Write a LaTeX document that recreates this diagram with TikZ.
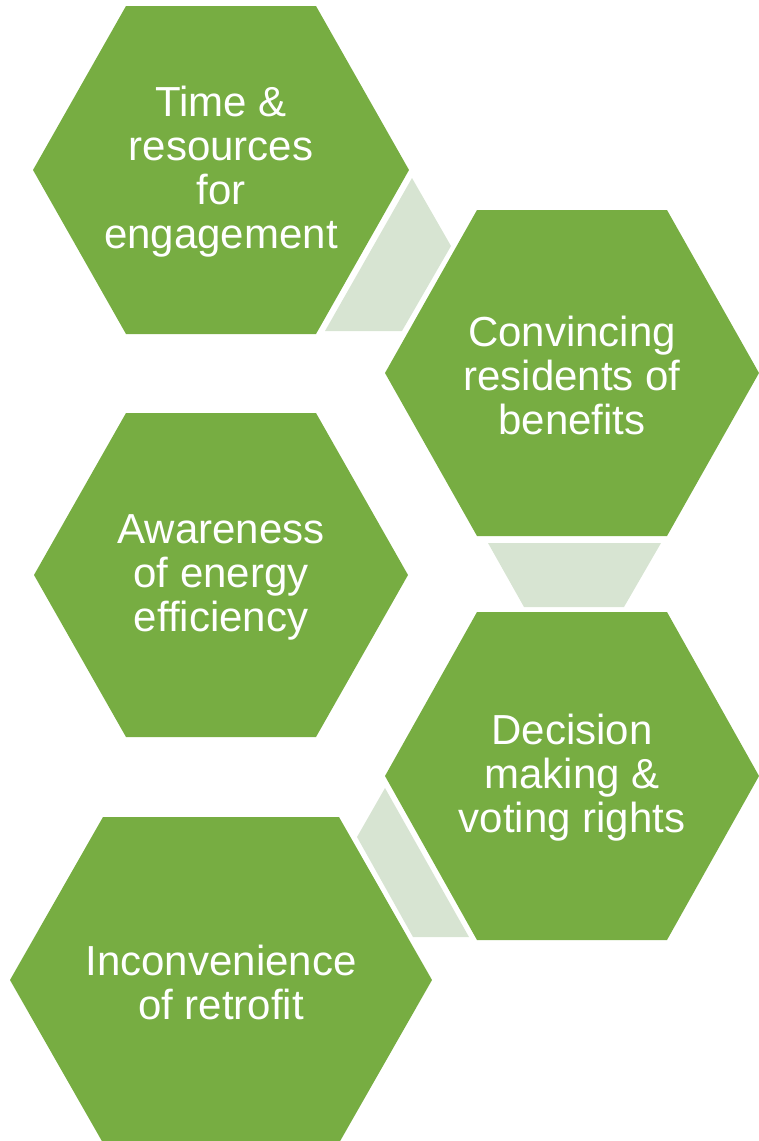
\documentclass[tikz,border=0pt]{standalone}
\usepackage{fontspec}
\setmainfont{Liberation Sans}
\definecolor{hexgreen}{HTML}{77AD42}
\definecolor{linkgreen}{HTML}{D7E4D2}
\begin{document}
\begin{tikzpicture}[x=1pt,y=-1pt,
  hexfill/.style={fill=hexgreen,draw=none},
  linkfill/.style={fill=linkgreen,draw=none},
  hexlabel/.style={text=white,align=center,inner sep=0pt,
    font=\fontsize{42}{44}\selectfont}]
\useasboundingbox (0,0) rectangle (759,1141);
% connectors
\fill[linkfill] (412,178) -- (451,246) -- (402,331) -- (325,331) -- cycle;
\fill[linkfill] (488,543) -- (661,543) -- (624,607) -- (524,607) -- cycle;
\fill[linkfill] (385,788) -- (357,837) -- (413,937) -- (469,937) -- cycle;
% hexagons
\fill[hexfill,shift={(221,170)}] (-95,-164) -- (95,-164) -- (188,0) -- (95,164) -- (-95,164) -- (-188,0) -- cycle;
\fill[hexfill,shift={(572,373)}] (-95,-163) -- (95,-163) -- (187,0) -- (95,163) -- (-95,163) -- (-187,0) -- cycle;
\fill[hexfill,shift={(221,575)}] (-95,-162) -- (95,-162) -- (187,0) -- (95,162) -- (-95,162) -- (-187,0) -- cycle;
\fill[hexfill,shift={(572,776)}] (-95,-164) -- (95,-164) -- (187,0) -- (95,164) -- (-95,164) -- (-187,0) -- cycle;
\fill[hexfill,shift={(221,980)}] (-118,-163) -- (118,-163) -- (211,0) -- (118,163) -- (-118,163) -- (-211,0) -- cycle;
% labels
\node[hexlabel] (time) at (221,172) {Time \&\\resources\\for\\engagement};
\node[hexlabel] (conv) at (572,375) {Convincing\\residents of\\benefits};
\node[hexlabel] (aware) at (221,577) {Awareness\\of energy\\efficiency};
\node[hexlabel] (decis) at (572,778) {Decision\\making \&\\voting rights};
\node[hexlabel] (incon) at (221,982) {Inconvenience\\of retrofit};
\end{tikzpicture}
\end{document}
